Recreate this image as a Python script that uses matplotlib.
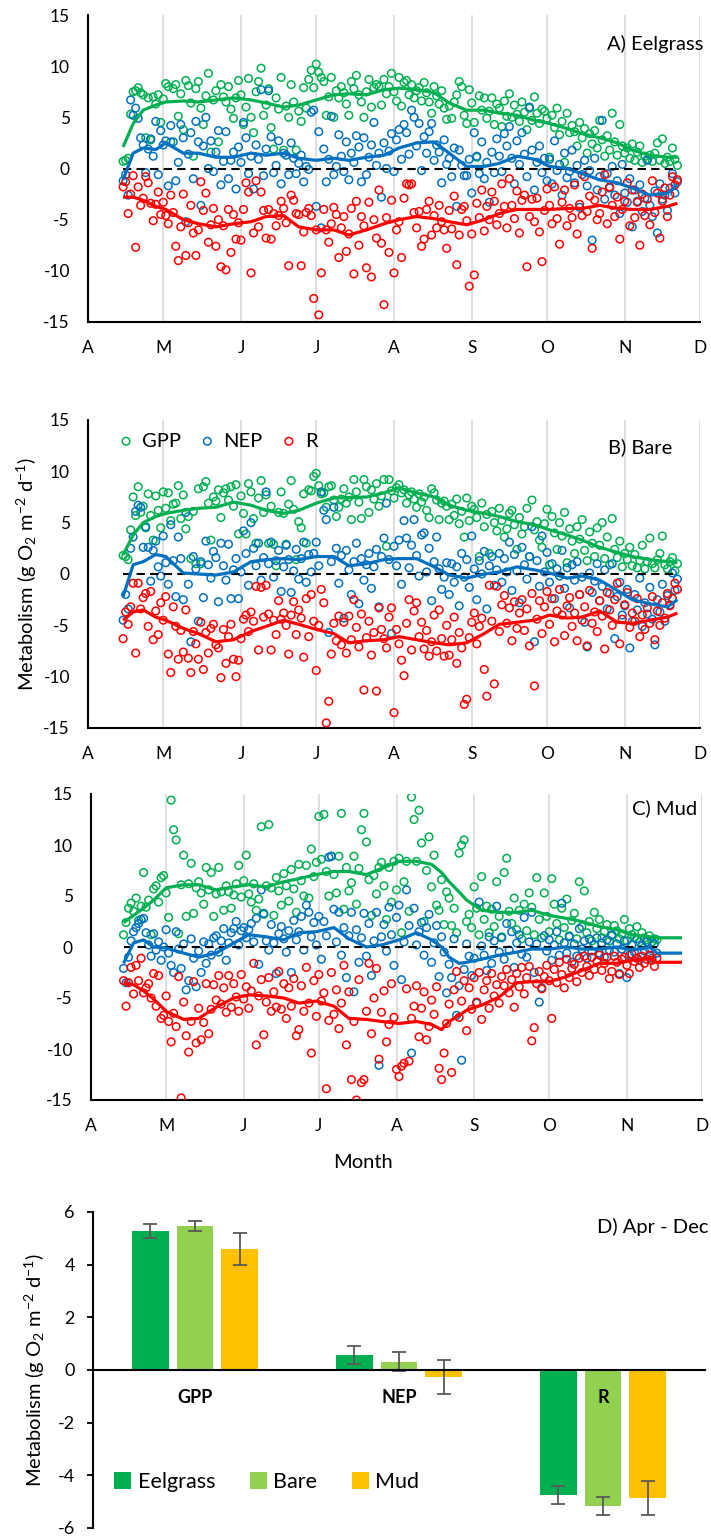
import numpy as np
import matplotlib.pyplot as plt

plt.rcParams['font.family'] = ['Lato', 'DejaVu Sans']
plt.rcParams['axes.unicode_minus'] = False
plt.rcParams['mathtext.fontset'] = 'custom'
plt.rcParams['mathtext.rm'] = 'Lato'
plt.rcParams['mathtext.it'] = 'Lato:italic'

GREEN = '#00B050'
BLUE = '#0070C0'
RED = '#FF0000'

# month axis, days counted from 1 April
months = ['A', 'M', 'J', 'J', 'A', 'S', 'O', 'N', 'D']
month_days = [0, 30, 61, 91, 122, 153, 183, 214, 244]

# ---- A) Eelgrass : daily values starting 14 April ----
a_start = 14
a_gpp = [0.7, 0.8, 1.0, 5.3, 7.5, 7.6, 7.9, 7.4, 7.2, 3.0,
         6.9, 2.8, 7.0, 6.3, 7.2, 4.5, 6.8, 8.3, 8.0, 2.6,
         7.8, 8.2, 5.1, 7.3, 3.8, 8.6, 8.1, 6.4, 1.2, 7.8,
         8.5, 5.9, 4.3, 7.1, 9.3, 1.6, 6.7, 7.6, 2.6, 8.2,
         7.0, 6.5, 8.0, 5.8, 4.9, 6.9, 8.6, 7.2, 4.3, 6.0,
         8.8, 5.0, 3.5, 7.5, 8.5, 9.8, 5.2, 6.2, 7.8, 4.0,
         1.9, 6.9, 5.8, 8.9, 1.8, 6.1, 5.0, 8.2, 6.5, 1.8,
         5.6, 4.6, 7.9, 5.9, 8.7, 9.6, 7.9, 10.2, 9.4, 8.9,
         8.5, 5.2, 7.0, 8.9, 5.0, 7.6, 6.9, 8.0, 7.4, 6.3,
         5.2, 8.5, 7.8, 9.1, 7.2, 6.5, 5.0, 7.5, 8.7, 6.0,
         7.9, 8.2, 8.0, 6.2, 8.7, 7.3, 8.0, 9.3, 7.5, 6.6,
         8.9, 6.1, 8.4, 8.6, 7.2, 8.2, 6.9, 7.6, 7.9, 6.6,
         8.4, 7.4, 6.5, 5.4, 8.0, 7.1, 6.3, 7.6, 5.9, 4.8,
         6.1, 4.9, 6.5, 7.2, 8.5, 8.0, 5.2, 4.4, 7.7, 6.4,
         4.5, 1.1, 7.1, 5.7, 6.9, 4.9, 5.6, 6.9, 4.3, 6.3,
         5.9, 4.1, 6.6, 5.1, 7.3, 5.0, 6.2, 5.3, 4.6, 6.5,
         5.5, 3.8, 5.9, 4.7, 7.0, 5.4, 4.4, 5.8, 5.6, 4.9,
         1.1, 5.2, 4.0, 5.9, 3.3, 4.6, 0.6, 5.4, 3.5, 4.2,
         3.6, 2.2, 4.5, 3.0, 3.9, 1.5, 3.4, 2.4, 3.7, 2.0,
         4.7, 2.8, 1.2, 3.2, 1.8, 5.4, 2.6, 1.3, 4.3, 2.2,
         1.5, 2.0, 1.0, 2.4, 0.8, 1.6, 2.2, 0.6, 1.2, 0.9,
         1.3, 0.7, 1.5, 2.5, 0.8, 2.9, 0.5, 1.1, 0.7, 2.0,
         0.9, 0.3]
a_nep = [-1.2, -0.6, -2.6, 6.7, 5.2, 5.9, 4.9, 3.0, 2.3, -0.4,
         1.9, 2.9, 1.2, 4.6, -0.6, 3.7, 2.3, 2.7, -1.7, 4.2,
         2.6, -1.2, 0.6, 4.3, 3.0, -5.2, 1.4, 3.5, -1.0, 4.6,
         2.6, -3.6, 2.2, 5.0, 0.0, 2.7, -0.3, 1.6, 3.7, -1.6,
         0.7, 3.6, -1.0, 0.8, 1.6, -2.0, 2.1, 0.6, 4.5, 3.0,
         -0.5, 1.2, -2.0, 2.3, 0.9, 7.7, -0.7, 1.9, 7.6, 3.1,
         -0.4, 0.3, 2.7, -1.5, 1.5, 1.3, -0.6, 2.5, 1.0, -0.5,
         0.5, 1.3, -1.3, 0.2, -0.1, 5.5, 5.7, -3.7, 3.6, -5.8,
         1.9, -1.3, 0.9, 5.1, -0.6, 0.2, 3.3, 1.2, -0.3, 2.6,
         -1.1, 1.5, 0.6, 3.2, 2.1, -1.3, 3.0, -0.6, 1.1, 2.3,
         4.5, 0.3, 1.5, -2.8, 2.5, 0.0, 1.7, 3.4, -0.3, 2.8,
         3.8, 0.9, 4.3, 3.5, 1.4, 5.7, 5.0, 2.2, 4.4, -0.2,
         3.1, 1.5, 3.6, 4.4, 0.8, 2.3, 1.6, -1.4, 2.8, 0.4,
         1.0, -0.8, 2.0, -3.7, 1.8, 0.3, -0.7, -0.7, 0.9, -2.4,
         3.5, 1.2, -0.5, 2.6, -1.0, 0.6, -3.3, 1.6, -0.4, 2.9,
         1.2, -0.3, 3.4, 2.2, 4.1, 1.0, -1.5, 2.7, 0.4, 3.5,
         1.4, -0.8, 6.0, 1.8, -2.1, 0.6, 2.2, -0.4, 1.0, -1.2,
         0.9, -1.5, 2.7, -0.2, 0.4, -2.6, 1.5, -0.9, -0.3, 1.8,
         -1.4, 0.3, -3.8, -0.6, 0.8, -1.7, -0.2, -7.0, 1.0, -2.1,
         -0.8, 4.7, -3.0, -0.5, -1.9, 0.2, -2.6, -1.2, -4.4, 0.4,
         -2.4, -3.3, -1.0, -5.7, -2.1, -3.2, -1.6, -4.2, -2.9, 0.8,
         -3.6, -4.7, -2.2, -6.3, -1.5, -3.0, -2.6, -4.1, -1.9, -0.5,
         -2.4, -1.3]
a_r = [-1.8, -1.3, -4.4, -2.5, -0.7, -7.7, -1.8, -3.6, -2.9, -0.8,
       -1.4, -3.4, -5.1, -3.5, -2.3, -4.5, -3.3, -4.6, -5.4, -2.6,
       -4.3, -7.6, -9.0, -5.7, -2.5, -8.5, -5.3, -3.6, -6.3, -8.5,
       -6.0, -1.3, -4.1, -2.4, -7.2, -5.5, -3.9, -7.6, -5.0, -9.6,
       -5.6, -9.9, -4.0, -8.2, -4.5, -6.9, -5.3, -7.0, -4.0, -1.4,
       -2.3, -10.2, -6.3, -1.2, -5.7, -2.3, -4.1, -6.8, -4.0, -6.9,
       -4.4, -5.6, -4.6, -3.2, -3.9, -5.3, -9.5, -2.6, -3.1, -4.4,
       -4.5, -9.5, -6.2, -4.3, -3.9, -4.6, -12.7, -6.0, -14.3, -10.2,
       -4.0, -6.0, -7.2, -5.4, -3.8, -4.5, -8.7, -5.8, -4.7, -8.1,
       -6.4, -3.9, -10.3, -3.2, -7.5, -4.7, -5.6, -9.7, -3.3, -10.6,
       -5.0, -6.8, -2.1, -7.3, -13.3, -4.8, -8.2, -3.1, -10.2, -6.0,
       -5.2, -8.7, -2.9, -1.5, -1.6, -1.5, -4.3, -5.8, -4.2, -7.6,
       -6.9, -4.0, -3.2, -6.5, -4.6, -5.8, -3.6, -5.2, -6.0, -7.8,
       -4.1, -5.9, -2.7, -9.4, -6.5, -4.0, -3.7, -5.1, -11.5, -6.4,
       -10.4, -3.4, -4.8, -2.1, -6.1, -3.7, -5.0, -2.3, -3.2, -5.5,
       -4.4, -1.5, -3.7, -5.8, -1.0, -3.6, -4.9, -2.2, -6.3, -3.1,
       -2.6, -9.6, -4.7, -3.0, -5.2, -2.9, -6.2, -9.1, -4.1, -2.0,
       -3.6, -5.4, -1.8, -4.9, -7.4, -3.3, -2.1, -5.6, -3.9, -4.8,
       -1.6, -6.4, -3.5, -4.6, -0.8, -4.2, -2.7, -7.8, -3.1, -5.0,
       -4.4, -2.3, -0.6, -5.4, -1.8, -3.6, -4.7, -2.8, -6.9, -4.0,
       -3.2, -1.4, -5.6, -2.1, -4.8, -3.3, -7.5, -2.5, -4.6, -3.0,
       -5.5, -1.2, -4.3, -2.4, -6.8, -3.2, -1.9, -4.7, -2.6, -0.8,
       -1.6, -1.1]

# running means (read at knot days)
ab_knots = [14, 18, 22, 27, 31, 38, 44, 51, 58, 65, 71, 78, 84, 91, 98, 104, 111, 118,
            124, 131, 138, 144, 151, 158, 164, 171, 178, 184, 191, 197, 204, 211, 217, 224, 231, 235]
a_gpp_avg = [2.1, 4.4, 5.7, 6.2, 6.5, 6.6, 6.5, 6.7, 6.9, 6.7, 6.4, 6.0, 6.2, 6.7, 7.2, 7.3, 7.2, 7.7,
             7.85, 7.7, 7.4, 6.4, 5.7, 5.7, 5.4, 5.2, 4.7, 4.4, 3.9, 3.4, 3.0, 2.5, 1.8, 1.3, 1.1, 1.1]
a_nep_avg = [-1.1, 1.5, 2.0, 1.85, 2.5, 1.5, 1.5, 1.1, 1.1, 1.5, 1.3, 1.5, 1.0, 0.8, 1.0, 0.8, 1.1, 1.3,
             2.0, 2.5, 2.6, 1.5, 0.2, 0.2, 0.5, 1.2, 0.9, 0.2, 0.0, -0.5, -1.1, -1.4, -1.9, -2.6, -2.4, -1.6]
a_r_avg = [-2.8, -2.8, -3.1, -3.7, -4.0, -5.0, -5.4, -5.7, -5.4, -5.2, -4.7, -4.6, -5.7, -6.0, -6.0, -6.5, -6.0, -5.4,
           -5.0, -4.7, -4.9, -5.2, -5.5, -5.0, -4.4, -4.0, -4.0, -4.0, -3.9, -3.9, -3.6, -3.9, -4.0, -4.0, -3.7, -3.4]

# ---- B) Bare ----
b_start = 14
b_gpp = [1.8, 1.7, 1.4, 4.3, 7.5, 5.7, 8.5, 6.0, 6.6, 4.5,
         7.8, 5.7, 3.3, 7.6, 6.2, 4.5, 8.0, 6.4, 7.9, 5.2,
         6.8, 6.9, 8.6, 5.4, 7.7, 4.4, 5.6, 1.5, 6.1, 1.0,
         8.3, 1.0, 8.5, 9.0, 6.9, 3.3, 7.5, 7.1, 8.2, 5.5,
         7.9, 8.3, 7.2, 8.5, 6.6, 8.7, 3.9, 7.6, 5.9, 3.9,
         8.8, 8.0, 5.4, 3.0, 7.4, 9.1, 6.0, 7.7, 3.0, 6.6,
         2.9, 0.8, 6.0, 8.0, 5.9, 2.9, 6.8, 9.1, 6.3, 1.4,
         5.1, 4.5, 7.8, 3.0, 8.2, 8.1, 9.5, 9.8, 8.6, 7.8,
         7.9, 6.5, 8.5, 8.6, 7.2, 5.6, 6.5, 7.3, 8.3, 6.9,
         7.5, 5.3, 9.2, 8.0, 7.0, 5.4, 9.2, 8.5, 6.0, 8.2,
         7.3, 8.8, 6.6, 7.6, 9.2, 2.7, 9.2, 8.1, 7.4, 8.4,
         8.7, 7.9, 8.2, 6.9, 7.7, 8.0, 7.3, 6.5, 7.8, 7.0,
         7.5, 6.2, 5.5, 8.3, 7.9, 7.2, 5.3, 6.9, 7.1, 6.6,
         5.3, 6.8, 5.7, 7.3, 4.9, 6.1, 3.6, 7.4, 5.2, 6.6,
         6.3, 5.5, 1.7, 6.9, 4.6, 5.8, 2.0, 6.1, 5.0, 4.2,
         6.4, 5.2, 3.6, 4.4, 5.9, 6.2, 4.8, 2.4, 5.5, 3.9,
         4.6, 6.4, 1.7, 7.2, 4.3, 5.1, 3.3, 2.6, 4.9, 6.3,
         0.9, 5.6, 4.0, 2.4, 5.0, 3.7, 6.0, 1.1, 4.4, 3.2,
         2.0, 4.6, 3.4, 5.3, 2.3, 1.3, 4.1, 3.0, 1.7, 4.5,
         2.8, 5.0, 1.5, 3.6, 0.9, 5.4, 2.4, 1.6, 3.2, 0.7,
         2.0, 1.4, 2.6, 0.8, 1.9, 0.6, 1.3, 2.8, 0.5, 1.2,
         3.5, 1.0, 0.6, 1.4, 2.0, 3.7, 0.9, 0.5, 1.2, 1.6,
         0.3, 1.0]
b_nep = [-4.5, -2.0, -3.4, 2.5, 3.6, 6.1, 6.7, 6.5, 2.6, 4.6,
         2.6, -0.7, 2.3, 3.2, 0.7, -0.2, 3.7, 1.1, -1.0, 4.8,
         1.3, -2.2, 3.6, 1.5, -2.5, 6.0, -1.0, -6.6, 1.7, 0.5,
         -4.6, 1.2, -2.3, 3.2, 0.9, -0.4, 2.2, 1.6, -2.7, 3.0,
         0.8, -0.6, 2.9, -2.4, 0.4, 1.5, -2.4, 0.2, 4.2, 2.0,
         -1.1, 5.0, 2.5, 0.8, 3.0, -0.6, 1.6, 8.0, 1.0, 3.1,
         -0.3, 1.3, 2.3, -1.7, 0.7, 2.8, 1.4, -1.8, 0.3, 2.4,
         -0.5, 1.5, 3.1, -0.8, 1.9, 0.2, 2.0, 3.1, 0.8, 8.0,
         6.2, 5.3, -5.7, 1.2, 6.5, 2.5, -0.9, 1.8, -4.3, 2.3,
         0.4, -2.0, 1.2, 3.0, -2.9, 1.5, -0.6, 0.9, 2.0, -1.4,
         0.7, 2.4, -3.2, 1.7, 3.5, 6.9, 1.4, -5.8, 2.7, 0.8,
         3.3, -1.0, 5.2, 3.5, 0.6, 2.8, 5.3, 1.8, -0.2, 3.8,
         4.0, 0.2, 2.5, -2.6, 1.2, 3.6, 0.5, -1.5, -0.3, 1.1,
         -2.0, 1.0, -0.8, 0.7, -3.1, 2.0, -0.3, 1.4, -1.3, 3.7,
         0.5, -2.5, 1.3, 0.0, 2.2, -3.4, 0.8, 1.7, -1.1, 0.4,
         2.0, -0.8, 1.5, 0.2, 3.1, -1.6, 1.9, 0.3, -2.8, 2.6,
         0.9, -0.5, 1.7, 4.6, -6.6, 1.3, -1.2, 3.7, 0.2, 2.1,
         -0.8, 1.0, -2.4, 0.5, -0.2, 2.3, -1.4, 0.6, -3.3, 0.9,
         -0.6, 1.2, -2.0, -0.3, -4.7, -7.1, 0.1, -1.8, -0.7, 1.0,
         -2.6, -1.2, 0.4, -3.4, -1.9, 1.0, -6.3, -2.2, -0.8, -4.0,
         -3.1, -1.5, -7.2, -4.6, -2.0, -3.5, -0.4, -5.1, -2.8, -3.9,
         -1.3, -4.4, -6.9, -2.5, -3.7, -1.0, -4.6, -2.1, -3.0, 0.1,
         -1.6, -0.5]
b_r = [-6.3, -3.7, -4.9, -3.2, -0.9, -7.7, -0.9, -3.4, -2.3, -1.9,
       -5.1, -1.7, -6.4, -3.6, -5.9, -2.8, -4.5, -2.2, -7.8, -9.6,
       -3.2, -5.1, -8.3, -5.5, -7.6, -3.5, -8.2, -9.6, -5.6, -6.8,
       -8.3, -4.7, -9.3, -5.7, -7.7, -5.3, -4.9, -6.9, -7.2, -10.1,
       -5.4, -8.7, -6.1, -4.9, -8.3, -10.0, -8.4, -6.3, -4.4, -4.0,
       -5.6, -3.7, -4.6, -1.2, -7.4, -1.3, -4.2, -1.1, -3.9, -7.4,
       -4.5, -5.9, -2.6, -4.4, -3.8, -5.0, -7.8, -4.0, -2.7, -5.9,
       -3.5, -4.3, -8.1, -2.4, -6.1, -2.0, -4.6, -9.4, -5.0, -1.5,
       -2.8, -14.5, -12.4, -7.8, -4.8, -6.5, -4.1, -6.9, -4.7, -7.7,
       -4.1, -6.4, -2.5, -5.2, -7.1, -3.9, -11.3, -6.2, -4.6, -7.9,
       -5.7, -11.4, -3.3, -5.4, -6.3, -7.2, -4.2, -3.3, -13.5, -5.4,
       -6.8, -8.4, -9.9, -4.8, -2.5, -7.4, -3.6, -2.8, -6.1, -4.7,
       -7.3, -5.5, -8.0, -6.6, -4.0, -7.5, -3.5, -6.3, -8.0, -5.0,
       -7.9, -6.4, -4.2, -8.7, -5.7, -7.2, -12.7, -12.2, -6.2, -4.7,
       -3.8, -6.8, -5.1, -4.3, -9.3, -11.9, -1.1, -4.6, -10.7, -1.2,
       -5.6, -3.0, -2.1, -4.8, -3.3, -6.5, -2.7, -5.3, -3.8, -2.5,
       -5.5, -3.4, -7.0, -1.9, -10.9, -4.4, -2.6, -5.8, -3.2, -1.7,
       -4.9, -2.4, -6.6, -3.6, -1.5, -4.0, -6.0, -3.1, -2.3, -5.1,
       -3.8, -6.5, -2.0, -4.5, -3.2, -7.0, -1.6, -4.8, -3.7, -5.6,
       -2.6, -4.1, -7.3, -1.8, -3.5, -5.0, -2.5, -0.9, -6.8, -4.4,
       -3.0, -1.8, -5.2, -3.8, -4.6, -2.4, -6.1, -4.0, -5.4, -3.3,
       -4.8, -2.2, -6.4, -3.6, -5.0, -2.8, -4.3, -1.9, -3.1, -2.4,
       -0.9, -1.5]
b_gpp_avg = [1.85, 3.8, 5.0, 5.6, 5.9, 6.2, 6.4, 6.5, 7.0, 6.7, 6.2, 5.9, 6.2, 6.9, 7.4, 7.45, 7.5, 7.9,
             8.4, 7.9, 7.5, 6.7, 6.2, 5.9, 5.6, 5.1, 4.8, 4.3, 3.8, 3.3, 2.6, 2.1, 1.7, 1.4, 1.2, 1.1]
b_nep_avg = [-2.2, 0.9, 1.2, 1.9, 1.7, 0.1, 0.0, -0.1, 0.2, 1.2, 1.4, 1.5, 1.4, 1.7, 1.7, 0.8, 1.0, 1.4,
             1.5, 1.5, 0.7, -0.1, -0.4, 0.0, 0.2, 0.7, 0.4, 0.1, -0.4, -0.2, -0.6, -1.6, -2.5, -2.9, -3.2, -2.5]
b_r_avg = [-4.5, -3.7, -3.5, -4.2, -4.5, -5.3, -5.8, -6.6, -6.4, -5.6, -5.1, -4.5, -4.9, -5.4, -5.8, -6.7, -6.5, -6.4,
           -6.1, -6.4, -6.7, -6.9, -6.7, -5.8, -4.9, -4.7, -4.5, -4.0, -4.3, -4.2, -3.6, -4.7, -4.8, -4.5, -4.2, -3.8]

# ---- C) Mud : daily values starting 13 April ----
c_start = 13
c_gpp = [1.2, 2.4, 3.8, 4.3, 3.5, 4.8, 2.6, 4.0, 7.3, 3.9,
         4.6, 1.2, 5.7, 6.0, 4.4, 6.8, 7.0, 5.3, 2.9, 14.4,
         11.5, 10.5, 1.3, 6.1, 9.0, 3.0, 6.2, 8.2, 3.3, 5.8,
         6.4, 5.3, 4.2, 7.8, 5.6, 7.3, 3.0, 5.2, 7.8, 5.4,
         3.6, 6.0, 5.4, 3.8, 5.1, 6.2, 8.0, 4.9, 6.5, 9.0,
         5.2, 4.4, 6.2, 3.6, 4.7, 11.8, 3.2, 6.0, 12.0, 5.8,
         3.1, 6.8, 5.5, 4.1, 7.2, 6.0, 4.5, 7.6, 5.7, 3.4,
         8.1, 6.5, 5.0, 8.0, 4.8, 9.6, 6.9, 8.3, 12.8, 8.6,
         13.0, 7.4, 5.0, 8.9, 7.1, 5.3, 8.9, 13.1, 3.7, 7.8,
         5.5, 6.3, 8.9, 4.2, 7.7, 11.5, 13.1, 10.3, 6.6, 3.1,
         7.0, 5.2, 7.8, 8.3, 6.0, 2.7, 7.8, 4.4, 8.4, 5.6,
         8.7, 1.4, 6.4, 8.4, 3.5, 14.7, 12.5, 8.4, 13.4, 10.2,
         2.5, 7.5, 10.8, 5.9, 9.0, 4.1, 3.6, 6.6, 2.2, 5.4,
         4.8, 2.1, 3.8, 1.4, 9.2, 10.0, 10.5, 2.5, 3.2, 1.9,
         5.9, 3.8, 1.2, 6.9, 2.7, 4.0, 1.4, 3.7, 2.0, 6.4,
         3.0, 1.0, 7.3, 8.7, 3.5, 2.3, 4.8, 1.7, 3.6, 0.8,
         4.2, 1.6, 5.3, 3.9, 1.2, 6.8, 2.7, 0.9, 5.3, 3.0,
         1.5, 6.7, 4.2, 2.3, 0.7, 3.8, 1.9, 4.7, 1.1, 2.6,
         3.3, 0.8, 6.4, 2.0, 5.5, 1.4, 2.5, 0.6, 3.4, 1.8,
         2.7, 0.9, 1.5, 2.2, 0.6, 1.1, 2.1, 1.6, 0.8, 1.3,
         2.7, 0.6, 1.8, 1.2, 0.9, 2.0, 0.5, 1.4, 0.9, 0.7,
         1.1, 0.5, 0.8, 0.7]
c_nep = [-2.1, -3.5, -1.0, 0.6, 1.5, 1.9, 2.3, 2.7, 2.8, 1.4,
         0.2, -0.9, 1.3, -0.3, 0.5, -1.3, 0.0, 1.7, -0.6, -1.8,
         -2.5, 1.5, -0.2, -2.1, 0.3, -4.2, -3.3, 0.8, -1.1, -3.9,
         -0.4, -2.5, 0.5, -1.6, 0.3, -0.8, 0.9, 1.1, -0.5, 0.6,
         1.8, -1.3, 0.4, 1.4, 1.8, 2.5, 0.2, 1.6, 1.9, 0.9,
         1.7, 2.3, 0.5, 2.8, -1.7, 5.6, 3.3, 0.6, -0.3, 2.2,
         0.4, -2.6, 1.3, 2.0, 0.8, -0.5, 1.6, -2.5, 2.6, 0.7,
         1.5, 3.0, -0.3, 4.1, 3.4, 1.0, 2.4, 0.2, 3.0, -1.2,
         2.5, 1.1, 8.8, 8.9, 3.7, 0.5, 3.4, -0.8, 1.9, -3.0,
         1.1, 3.4, -4.4, 1.7, -1.5, 0.9, 3.3, -0.9, 2.3, -2.8,
         0.6, 3.4, -11.6, 1.0, 2.2, -0.4, 3.9, 1.2, -1.8, 2.9,
         4.1, -3.2, 0.5, 5.6, 2.1, -10.4, 3.8, 0.2, 1.5, 2.4,
         -0.8, 1.9, 3.2, -1.5, 0.4, 2.1, -2.9, 1.0, -0.5, -4.5,
         -1.7, -3.0, 0.8, -6.7, -3.8, -11.1, -2.2, 0.3, -0.9, -2.8,
         -1.1, -5.5, 4.4, 0.1, -0.8, -2.3, 1.0, -1.6, 0.6, 4.0,
         -0.5, 0.9, -1.2, 2.3, -0.3, 1.5, -2.0, 0.4, 1.2, -0.7,
         2.9, -1.0, 0.5, 3.4, -2.5, 0.3, -5.4, -4.0, 1.1, -0.4,
         0.7, -1.3, 0.2, 1.5, -0.8, 4.3, 0.4, -0.6, 1.0, -1.5,
         0.3, -0.9, 1.8, -0.2, 0.6, -1.1, 0.8, -0.4, 0.2, 0.9,
         -0.6, 0.4, -1.0, 0.7, -0.3, 1.2, -0.5, 0.3, -2.6, -0.2,
         0.6, -3.0, -0.8, 0.2, -0.5, 0.8, -1.3, 0.1, -0.4, 0.5,
         -0.2, -1.1, 0.3, -0.6]
c_r = [-3.3, -5.8, -3.5, -2.0, -4.6, -1.8, -3.3, -1.1, -4.5, -4.0,
       -3.6, -5.0, -2.6, -5.8, -2.8, -7.0, -6.7, -4.8, -7.3, -9.3,
       -6.5, -7.8, -2.9, -14.8, -5.4, -8.7, -10.3, -7.3, -3.4, -9.4,
       -6.0, -9.1, -7.4, -3.6, -8.5, -6.1, -3.7, -5.2, -2.8, -5.6,
       -4.0, -6.4, -2.8, -5.9, -3.6, -4.9, -6.3, -2.7, -5.1, -3.9,
       -6.0, -4.3, -1.6, -9.6, -4.8, -3.2, -8.6, -5.4, -3.0, -6.3,
       -4.4, -5.9, -2.4, -6.1, -3.6, -7.0, -4.0, -5.8, -3.1, -8.7,
       -8.1, -3.8, -6.3, -2.0, -5.5, -10.4, -3.3, -6.8, -2.7, -5.3,
       -4.5, -13.9, -7.2, -2.5, -6.6, -4.2, -8.0, -5.5, -1.8, -9.6,
       -4.4, -13.0, -7.3, -15.0, -3.2, -13.3, -13.0, -6.3, -1.6, -8.5,
       -5.0, -2.1, -11.0, -6.4, -4.3, -9.3, -7.6, -3.6, -6.9, -12.0,
       -12.7, -11.7, -11.4, -4.1, -11.2, -7.0, -5.8, -3.8, -8.8, -6.0,
       -4.4, -9.1, -7.8, -5.2, -6.6, -3.9, -11.9, -13.0, -10.4, -7.5,
       -5.6, -12.3, -4.2, -2.4, -6.9, -5.3, -3.3, -8.2, -4.0, -6.1,
       -3.0, -5.4, -2.5, -7.1, -4.2, -3.3, -6.0, -2.6, -4.8, -3.7,
       -5.5, -2.9, -3.8, -2.2, -4.5, -3.2, -5.9, -2.6, -3.9, -2.0,
       -4.6, -3.0, -1.9, -9.2, -7.9, -3.6, -2.4, -4.1, -2.9, -1.8,
       -3.3, -7.0, -2.2, -3.5, -1.5, -2.7, -4.0, -1.2, -3.0, -2.1,
       -1.7, -3.4, -1.1, -2.5, -0.9, -1.9, -2.8, -1.0, -2.2, -1.4,
       -0.8, -2.3, -1.6, -1.0, -3.1, -2.4, -0.9, -1.5, -2.7, -1.2,
       -1.0, -1.8, -2.6, -0.7, -1.4, -1.1, -2.0, -0.9, -1.6, -1.2,
       -0.8, -1.3, -1.9, -1.1]
c_knots = [13, 17, 21, 25, 30, 37, 43, 50, 57, 63, 70, 77, 83, 90, 97, 103, 110, 116, 123,
           130, 136, 140, 143, 147, 150, 156, 163, 170, 176, 183, 190, 196, 203, 210, 216, 223, 226, 236]
c_gpp_avg = [2.4, 3.1, 3.8, 4.6, 5.8, 6.1, 6.1, 5.6, 5.9, 6.1, 5.9, 6.4, 6.7, 7.1, 7.4, 7.4, 7.1, 7.7, 8.4,
             8.4, 8.1, 7.3, 6.4, 5.4, 4.6, 3.6, 3.4, 3.4, 3.6, 3.1, 2.8, 2.5, 2.0, 1.7, 1.2, 1.0, 0.9, 0.9]
c_nep_avg = [-1.6, 0.4, 0.7, 0.0, -0.1, -0.6, -1.0, -0.6, 0.4, 1.2, 1.0, 0.7, 1.4, 1.5, 1.9, 0.8, 0.0, 0.2, 0.7,
             1.4, 0.7, 0.0, -1.0, -1.6, -1.5, -1.2, -0.8, -0.5, -0.2, -0.2, 0.0, -0.2, -0.2, 0.0, -0.3, 0.0, -0.6, -0.6]
c_r_avg = [-3.5, -3.7, -4.3, -5.1, -6.3, -7.1, -7.0, -5.9, -5.0, -4.7, -4.8, -5.0, -5.5, -5.3, -5.8, -7.0, -7.1, -7.3, -7.5,
           -7.3, -7.6, -8.1, -7.3, -6.7, -6.2, -5.7, -4.9, -3.5, -3.4, -3.4, -2.9, -2.3, -1.6, -1.6, -1.3, -1.1, -1.5, -1.5]

# ---- D) Apr - Dec means ----
cats = ['GPP', 'NEP', 'R']
sites = ['Eelgrass', 'Bare', 'Mud']
eel_mean = [5.28, 0.57, -4.75]
eel_err = [0.25, 0.35, 0.33]
bare_mean = [5.47, 0.32, -5.17]
bare_err = [0.2, 0.37, 0.33]
mud_mean = [4.6, -0.27, -4.86]
mud_err = [0.6, 0.65, 0.65]
site_colors = ['#00B050', '#92D050', '#FFC000']

W, H = 711, 1537
fig = plt.figure(figsize=(W / 100, H / 100), dpi=100)
MS = 30  # scatter marker area


def box(left, top, right, bottom):
    return [left / W, 1 - bottom / H, (right - left) / W, (bottom - top) / H]


def panel(rect, start, gpp, nep, r, knots, gpp_avg, nep_avg, r_avg):
    ax = fig.add_axes(rect)
    for vals, col in ((gpp, GREEN), (nep, BLUE), (r, RED)):
        days = start + np.arange(len(vals))
        ax.scatter(days, vals, s=MS, facecolors='none', edgecolors=col, linewidths=1.1, zorder=3)
    last = start + len(gpp) - 1
    ax.plot([start, last], [0, 0], color='black', ls=(0, (4, 2.5)), lw=1.5, zorder=4)
    for vals, col in ((gpp_avg, GREEN), (nep_avg, BLUE), (r_avg, RED)):
        ax.plot(knots, vals, color=col, lw=2.3, zorder=5, solid_capstyle='butt')
    ax.set_xlim(0, 244)
    ax.set_ylim(-15, 15)
    ax.set_xticks(month_days, months)
    ax.set_yticks(range(-15, 16, 5))
    ax.grid(axis='x', color='#D9D9D9', lw=1.2)
    ax.set_axisbelow(True)
    for s in ('top', 'right'):
        ax.spines[s].set_visible(False)
    for s in ('left', 'bottom'):
        ax.spines[s].set_linewidth(1.5)
    ax.tick_params(axis='both', length=0, labelsize=12.5)
    ax.tick_params(axis='y', pad=13)
    ax.tick_params(axis='x', pad=13)
    return ax


ax_a = panel(box(88, 15, 700, 322), a_start, a_gpp, a_nep, a_r, ab_knots, a_gpp_avg, a_nep_avg, a_r_avg)
ax_b = panel(box(88, 420, 700, 728), b_start, b_gpp, b_nep, b_r, ab_knots, b_gpp_avg, b_nep_avg, b_r_avg)
ax_c = panel(box(91, 794, 702, 1100), c_start, c_gpp, c_nep, c_r, c_knots, c_gpp_avg, c_nep_avg, c_r_avg)

fig.text(703 / W, 1 - 44 / H, 'A) Eelgrass', ha='right', va='center', fontsize=14.5)
fig.text(672 / W, 1 - 447 / H, 'B) Bare', ha='right', va='center', fontsize=14.5)
fig.text(697 / W, 1 - 808 / H, 'C) Mud', ha='right', va='center', fontsize=14.5)

ylab = 'Metabolism (g O$_2$ m$^{-2}$ d$^{-1}$)'
fig.text(27 / W, 1 - 574 / H, ylab, rotation=90, ha='center', va='center', fontsize=14.5)
fig.text(363 / W, 1 - 1162 / H, 'Month', ha='center', va='center', fontsize=14.5)

# legend of panel B
h = [ax_b.scatter([], [], s=MS, facecolors='none', edgecolors=c, linewidths=1.1) for c in (GREEN, BLUE, RED)]
ax_b.legend(h, ['GPP', 'NEP', 'R'], loc='center left', bbox_to_anchor=(116 / W, 1 - 441 / H),
            bbox_transform=fig.transFigure, ncol=3, frameon=False, fontsize=14.5, handlelength=1.0,
            handletextpad=0.3, columnspacing=0.8, borderpad=0, borderaxespad=0, scatterpoints=1)

# ---- panel D ----
ax_d = fig.add_axes(box(93, 1212, 705, 1528))
x = np.arange(len(cats))
bw = 0.181
for k, (mean, err, name) in enumerate(((eel_mean, eel_err, sites[0]), (bare_mean, bare_err, sites[1]),
                                       (mud_mean, mud_err, sites[2]))):
    ax_d.bar(x + (k - 1) * 0.22, mean, width=bw, color=site_colors[k], label=name,
             yerr=err, capsize=5, error_kw=dict(ecolor='#595959', elinewidth=1.3, capthick=1.3), zorder=2)
ax_d.set_xlim(-0.5, 2.5)
ax_d.set_ylim(-6, 6)
ax_d.set_yticks(range(-6, 7, 2))
ax_d.set_xticks([])
for s in ('top', 'right'):
    ax_d.spines[s].set_visible(False)
ax_d.spines['bottom'].set_position(('data', 0))
ax_d.spines['bottom'].set_linewidth(1.5)
ax_d.spines['left'].set_linewidth(1.5)
ax_d.tick_params(axis='y', direction='out', length=4, width=1.3, labelsize=13, pad=9)
for i, c in enumerate(cats):
    ax_d.text(i, -1.05, c, ha='center', va='center', fontsize=13, fontweight='bold')
fig.text(708 / W, 1 - 1227 / H, 'D) Apr - Dec', ha='right', va='center', fontsize=14.5)
fig.text(35 / W, 1 - 1370 / H, ylab, rotation=90, ha='center', va='center', fontsize=14.5)
ax_d.legend(loc='center left', bbox_to_anchor=(114 / W, 1 - 1482 / H), bbox_transform=fig.transFigure,
            ncol=3, frameon=False, fontsize=15.5, handlelength=0.8, handleheight=0.8, handletextpad=0.3,
            columnspacing=1.6, borderpad=0, borderaxespad=0)

fig.savefig('out.png', dpi=100)
